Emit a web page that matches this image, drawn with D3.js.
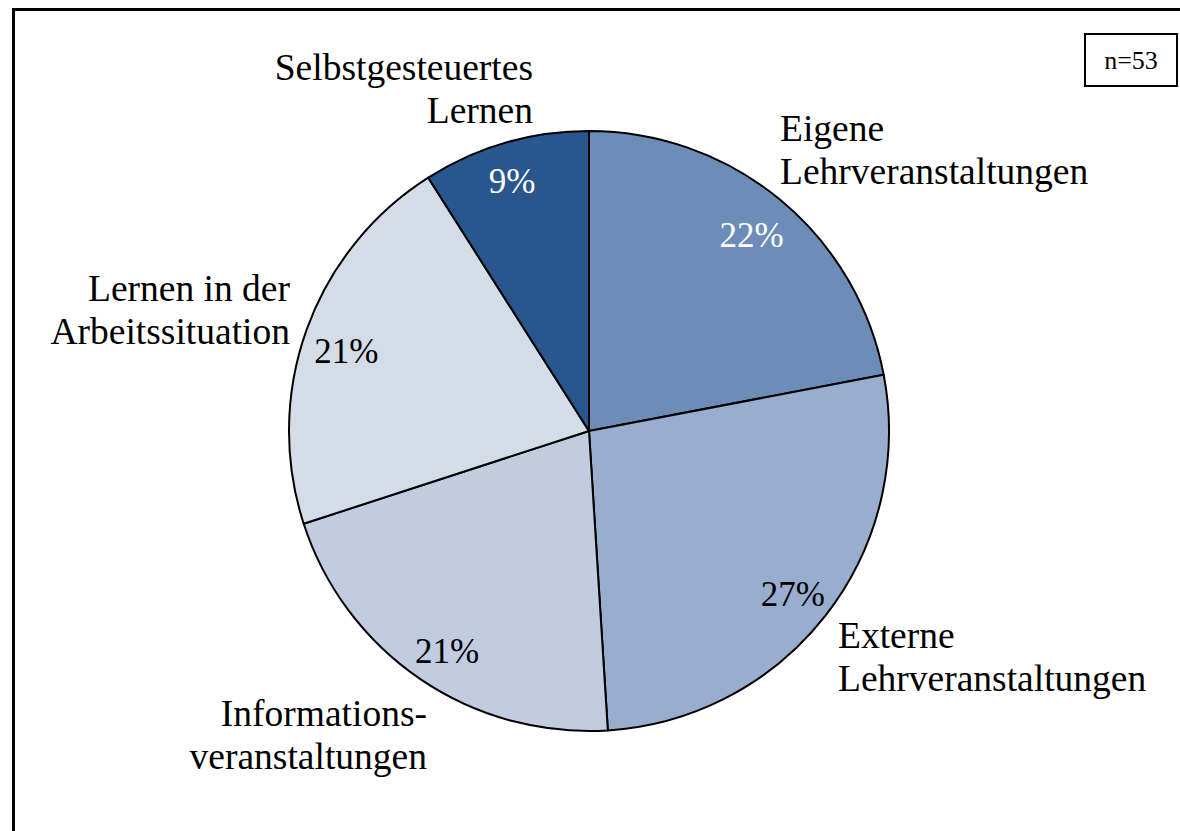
<!DOCTYPE html>
<html>
<head>
<meta charset="utf-8">
<script src="https://cdn.jsdelivr.net/npm/d3@7"></script>
<style>
  html, body { margin: 0; padding: 0; background: #fff; }
  svg text { font-family: "Liberation Serif", "Times New Roman", serif; }
</style>
</head>
<body>
<div id="chart"></div>
<script>
// categories and shares (percent), clockwise from 12 o'clock
var categories = [
  ['Eigene', 'Lehrveranstaltungen'],
  ['Externe', 'Lehrveranstaltungen'],
  ['Informations-', 'veranstaltungen'],
  ['Lernen in der', 'Arbeitssituation'],
  ['Selbstgesteuertes', 'Lernen']
];
var shares = [22, 27, 21, 21, 9];
var colors = ['#6d8db9', '#99aecf', '#c1cce0', '#d4dce8', '#2a568e'];
var pctColors = ['#fff', '#000', '#000', '#000', '#fff'];
var sampleLabel = 'n=53';

// where each category name sits (x, y of first baseline, anchor)
var labelPos = [
  [780, 141, 'start'],
  [838, 648, 'start'],
  [427, 726, 'end'],
  [290, 301, 'end'],
  [533, 80, 'end']
];
// small nudges of the percent labels off the centroid
var pctNudge = [[-2, 3], [0, 5], [3, 6], [0, 7], [-5, -3]];

var svgWidth = 1180, svgHeight = 831;
var cx = 589, cy = 431, radius = 300;

var svg = d3.select('#chart').append('svg')
  .attr('width', svgWidth)
  .attr('height', svgHeight);

// outer frame (runs off the right and bottom edge)
svg.append('rect')
  .attr('x', 13.5).attr('y', 9.5)
  .attr('width', 1200).attr('height', 900)
  .attr('fill', 'none').attr('stroke', '#000').attr('stroke-width', 3);

// n box
svg.append('rect')
  .attr('x', 1085).attr('y', 34)
  .attr('width', 92).attr('height', 52)
  .attr('fill', '#fff').attr('stroke', '#000').attr('stroke-width', 2);
svg.append('text')
  .attr('x', 1131).attr('y', 69)
  .attr('text-anchor', 'middle')
  .attr('font-size', '26px')
  .text(sampleLabel);

var pie = d3.pie().sort(null).value(function (d) { return d; });
var arcs = pie(shares);

var arc = d3.arc().innerRadius(0).outerRadius(radius);
var labelArc = d3.arc().innerRadius(258).outerRadius(258);

var g = svg.append('g')
  .attr('transform', 'translate(' + cx + ',' + cy + ')');

g.selectAll('path')
  .data(arcs)
  .enter().append('path')
  .attr('d', arc)
  .attr('fill', function (d, i) { return colors[i]; })
  .attr('stroke', '#000')
  .attr('stroke-width', 2)
  .attr('stroke-linejoin', 'round');

// percentages inside slices
g.selectAll('text.pct')
  .data(arcs)
  .enter().append('text')
  .attr('class', 'pct')
  .attr('x', function (d, i) { return labelArc.centroid(d)[0] + pctNudge[i][0]; })
  .attr('y', function (d, i) { return labelArc.centroid(d)[1] + pctNudge[i][1]; })
  .attr('dy', '0.35em')
  .attr('text-anchor', 'middle')
  .attr('font-size', '35px')
  .attr('fill', function (d, i) { return pctColors[i]; })
  .text(function (d) { return d.data + '%'; });

// category names outside
categories.forEach(function (lines, i) {
  var t = svg.append('text')
    .attr('x', labelPos[i][0])
    .attr('y', labelPos[i][1])
    .attr('text-anchor', labelPos[i][2])
    .attr('font-size', '37.5px')
    .attr('fill', '#000');
  lines.forEach(function (line, j) {
    t.append('tspan')
      .attr('x', labelPos[i][0])
      .attr('dy', j === 0 ? 0 : 42.5)
      .text(line);
  });
});
</script>
</body>
</html>
